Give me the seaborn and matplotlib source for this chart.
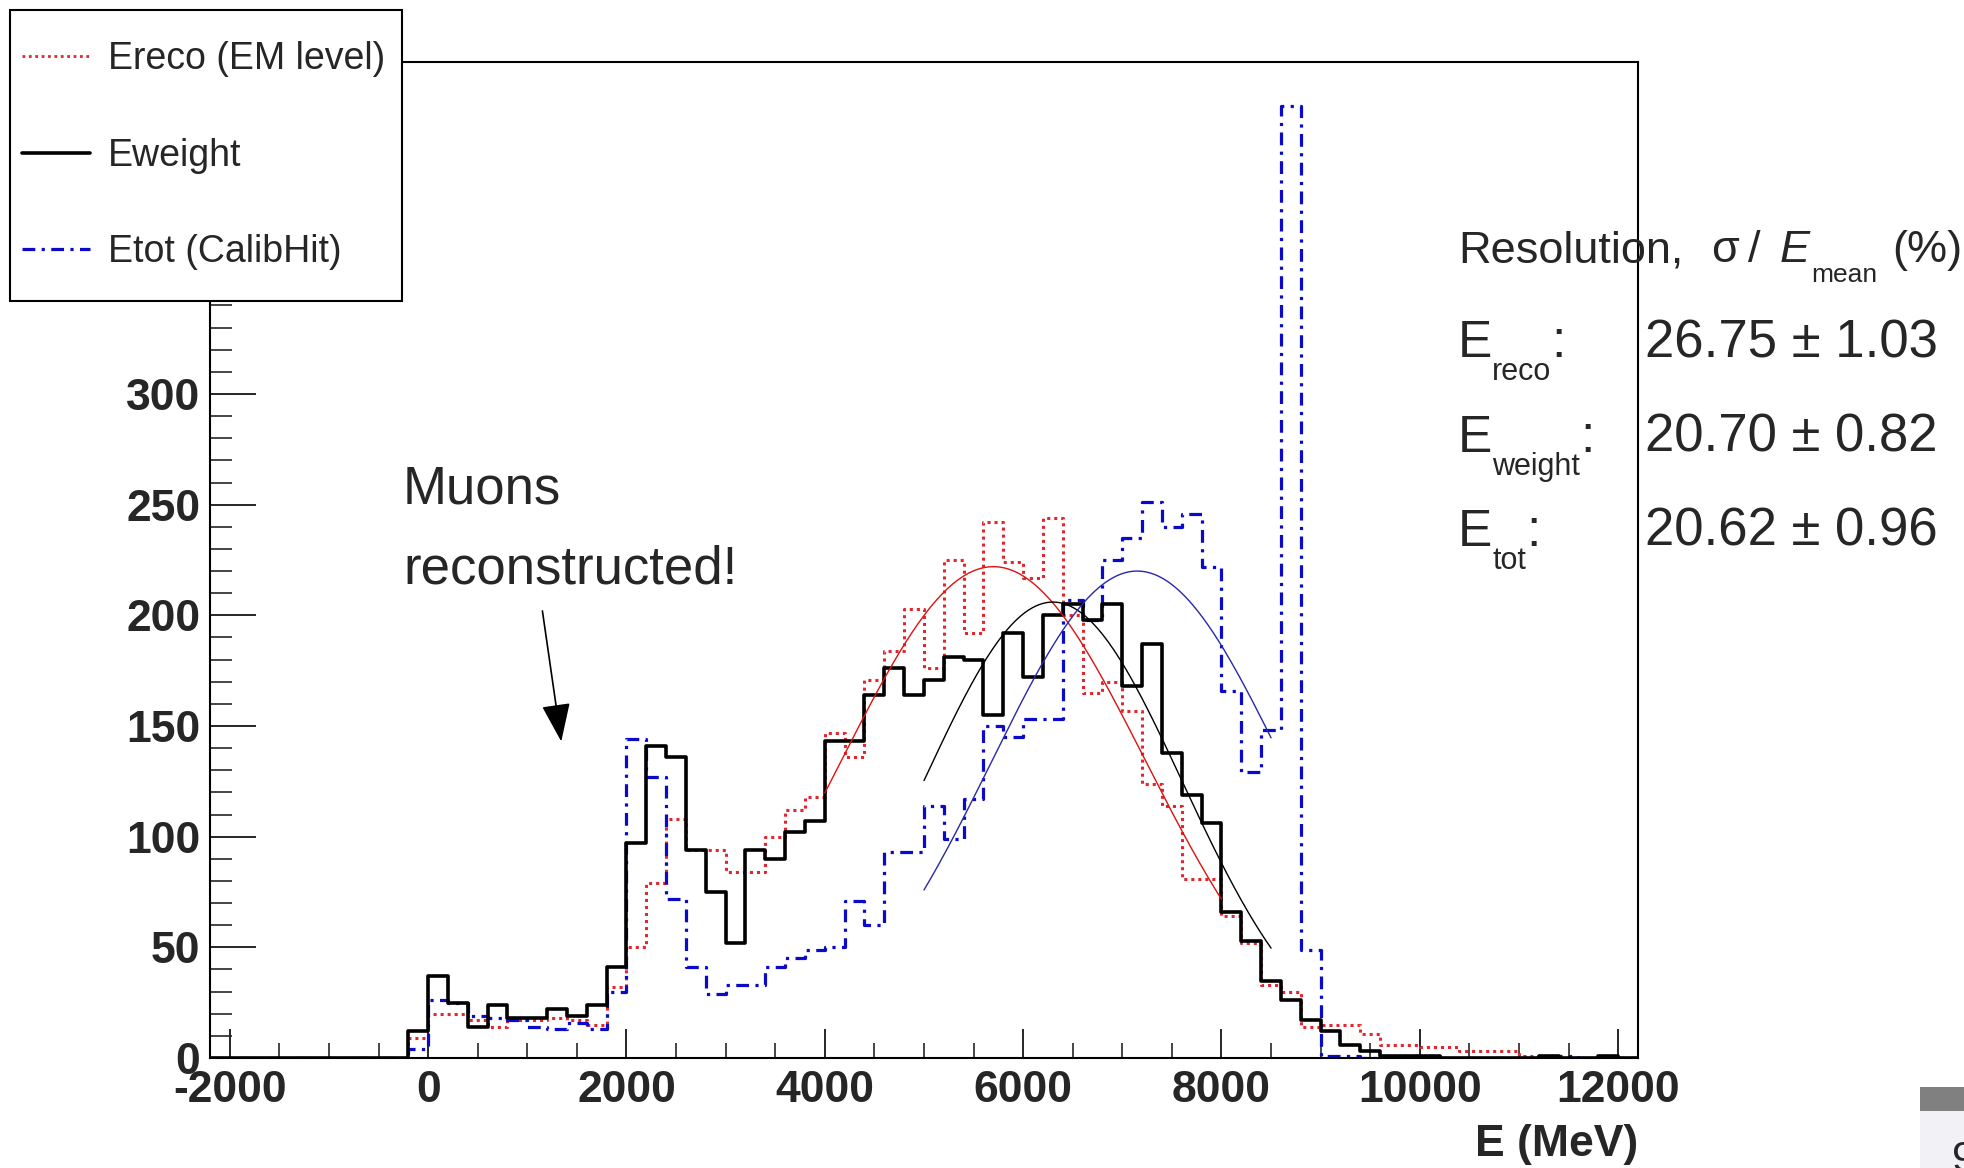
import numpy as np
import pandas as pd
import matplotlib
matplotlib.use("Agg")
import matplotlib.pyplot as plt
import seaborn as sns
from matplotlib.lines import Line2D
from matplotlib.patches import Rectangle
from matplotlib.ticker import MultipleLocator

# histogram binning: 200 MeV bins from -2200 to 12200 MeV
bin_width = 200
e_low, e_high = -2200, 12200

# counts per bin, first entry is the -2200..-2000 bin
e_reco = [
    0, 0, 0, 0, 0, 0, 0, 0, 0, 0, 9,                     # -2200 .. -200
    20, 20, 17, 14, 17, 17, 18, 17, 15, 32,              # 0 .. 1800
    50, 79, 108, 94, 94, 84, 84, 100, 112, 118,          # 2000 .. 3800
    147, 136, 171, 184, 203, 176, 225, 192, 242, 224,    # 4000 .. 5800
    217, 244, 200, 165, 170, 157, 124, 114, 81, 81,      # 6000 .. 7800
    64, 52, 33, 30, 14, 15, 15, 11, 6, 6,                # 8000 .. 9800
    5, 5, 3, 3, 3, 1, 0, 0, 0, 0,                        # 10000 .. 11800
    0]                                                   # 12000
e_weight = [
    0, 0, 0, 0, 0, 0, 0, 0, 0, 0, 12,
    37, 25, 14, 24, 18, 18, 22, 19, 24, 41,
    97, 141, 136, 94, 75, 52, 94, 90, 102, 107,
    143, 143, 164, 176, 164, 171, 181, 180, 155, 192,
    172, 200, 205, 198, 205, 168, 187, 138, 119, 106,
    66, 53, 35, 26, 17, 12, 6, 3, 1, 1,
    1, 0, 0, 0, 0, 0, 1, 0, 0, 1,
    0]
e_tot = [
    0, 0, 0, 0, 0, 0, 0, 0, 0, 0, 4,
    26, 25, 19, 18, 17, 14, 13, 16, 13, 30,
    144, 127, 72, 41, 29, 33, 33, 41, 45, 49,
    50, 71, 60, 93, 93, 114, 99, 117, 150, 145,
    153, 153, 207, 198, 225, 235, 251, 240, 246, 222,
    166, 129, 148, 430, 49, 1, 1, 0, 0, 1,
    1, 0, 0, 0, 0, 0, 1, 1, 0, 1,
    0]

# gaussian fits: amplitude, mean, sigma, fit range (MeV)
fit_amp = [222, 206, 220]
fit_mean = [5700, 6300, 7150]
fit_sigma = [1530, 1304, 1474]
fit_lo = [4000, 5000, 5000]
fit_hi = [8000, 8500, 8500]

legend_labels = ["Ereco (EM level)", "Eweight", "Etot (CalibHit)"]
res_names = ["reco", "weight", "tot"]
res_values = ["26.75 \u00b1 1.03", "20.70 \u00b1 0.82", "20.62 \u00b1 0.96"]

sns.set_style("ticks")
plt.rcParams["font.family"] = ["Liberation Sans", "DejaVu Sans"]
plt.rcParams["axes.unicode_minus"] = False

W, H = 1965, 1168
fig = plt.figure(figsize=(W / 100, H / 100), dpi=100)
ax = fig.add_axes([210 / W, 1 - 1058 / H, 1428 / W, 996 / H])
renderer = fig.canvas.get_renderer()

centers = np.arange(e_low, e_high, bin_width) + bin_width / 2
hists = pd.DataFrame({"E": centers, "reco": e_reco, "weight": e_weight, "tot": e_tot})

red = "#e3262e"
blue = "#0a0ac8"
hist_kws = dict(x="E", binwidth=bin_width, binrange=(e_low, e_high),
                element="step", fill=False, ax=ax)

sns.histplot(data=hists, weights="reco", color=red, linewidth=2.2,
             linestyle=(0, (1, 1.3)), **hist_kws)
sns.histplot(data=hists, weights="tot", color=blue, linewidth=2.3,
             linestyle=(0, (4, 2, 1, 2)), **hist_kws)
sns.histplot(data=hists, weights="weight", color="black", linewidth=2.6, **hist_kws)

# fit curves
fit_colors = ["#e01010", "black", "#2828a8"]
for amp, mu, sig, lo, hi, c in zip(fit_amp, fit_mean, fit_sigma, fit_lo, fit_hi, fit_colors):
    xs = np.linspace(lo, hi, 200)
    ys = amp * np.exp(-0.5 * ((xs - mu) / sig) ** 2)
    sns.lineplot(x=xs, y=ys, color=c, linewidth=1.0, ax=ax)

ax.set_xlim(e_low, e_high)
ax.set_ylim(0, 450)
ax.set_ylabel("")
ax.set_xlabel("E (MeV)", loc="right", fontsize=32, fontweight="bold", labelpad=9)

ax.xaxis.set_major_locator(MultipleLocator(2000))
ax.xaxis.set_minor_locator(MultipleLocator(500))
ax.yaxis.set_major_locator(MultipleLocator(50))
ax.yaxis.set_minor_locator(MultipleLocator(10))
ax.tick_params(axis="x", which="major", direction="in", length=21, width=1.4, pad=9)
ax.tick_params(axis="x", which="minor", direction="in", length=11, width=1.2)
ax.tick_params(axis="y", which="major", direction="in", length=33, width=1.4, pad=7)
ax.tick_params(axis="y", which="minor", direction="in", length=16, width=1.2)
for lab in ax.get_xticklabels() + ax.get_yticklabels():
    lab.set_fontsize(32)
    lab.set_fontweight("bold")
for sp in ax.spines.values():
    sp.set_linewidth(1.5)
    sp.set_color("black")

# annotation
fig.text(403 / W, 1 - 504 / H, "Muons", fontsize=38, va="baseline")
fig.text(403 / W, 1 - 584 / H, "reconstructed!", fontsize=38, va="baseline")
ax.annotate("", xy=(1342, 143), xytext=(1152, 202),
            arrowprops=dict(arrowstyle="-|>,head_length=1.2,head_width=0.45",
                            color="black", lw=1.2, mutation_scale=20,
                            shrinkA=0, shrinkB=0))


def chain_text(x_px, base_px, pieces):
    # pieces: (text, fontsize, drop in px, style); each piece starts where the last ended
    x = x_px
    for txt, size, drop, style in pieces:
        t = fig.text(x / W, 1 - (base_px + drop) / H, txt, fontsize=size,
                     style=style, va="baseline")
        x = t.get_window_extent(renderer).x1


# resolution header, pieces placed like the ROOT TLatex output
header = [("Resolution,", 1458, 0, 32.5, "normal"), ("\u03c3", 1711, 0, 32.5, "normal"),
          ("/", 1748, 0, 32.5, "normal"), ("E", 1780, 0, 32.5, "italic"),
          ("mean", 1811, 20, 19, "normal"), ("(%)", 1892, 0, 32.5, "normal")]
for txt, xp, drop, size, style in header:
    fig.text(xp / W, 1 - (262 + drop) / H, txt, fontsize=size, style=style, va="baseline")

for i, (name, val) in enumerate(zip(res_names, res_values)):
    base = 357 + i * 94.5
    chain_text(1458, base, [("E", 37, 0, "normal"), (name, 22, 23, "normal"),
                            (":", 37, 0, "normal")])
    fig.text(1645 / W, 1 - base / H, val, fontsize=38, va="baseline")

# legend box drawn in ROOT style
fig.add_artist(Rectangle((10 / W, 1 - 301 / H), 392 / W, 291 / H, transform=fig.transFigure,
                         facecolor="white", edgecolor="black", linewidth=1.5, zorder=5))
leg_styles = [dict(color=red, lw=2.0, ls=(0, (1, 1.3))),
              dict(color="black", lw=2.6, ls="-"),
              dict(color=blue, lw=2.3, ls=(0, (4, 2, 1, 2)))]
for i, (lab, st) in enumerate(zip(legend_labels, leg_styles)):
    yy = 1 - (56 + i * 96.5) / H
    fig.add_artist(Line2D([22 / W, 90 / W], [yy, yy], transform=fig.transFigure, zorder=6, **st))
    fig.text(108 / W, 1 - (59 + i * 96.5) / H, lab, fontsize=27, va="center", zorder=6)

# slide artefacts in the bottom-right corner
fig.add_artist(Rectangle((1920 / W, 1 - 1111 / H), 45 / W, 24 / H, transform=fig.transFigure,
                         facecolor="#808080", edgecolor="none", zorder=5))
fig.add_artist(Rectangle((1920 / W, 0), 45 / W, 57 / H, transform=fig.transFigure,
                         facecolor="#f1f1f6", edgecolor="none", zorder=5))
fig.text(1952 / W, 1 - 1140 / H, "9", fontsize=30, va="top", zorder=6)

fig.savefig("out.png", dpi=100)
